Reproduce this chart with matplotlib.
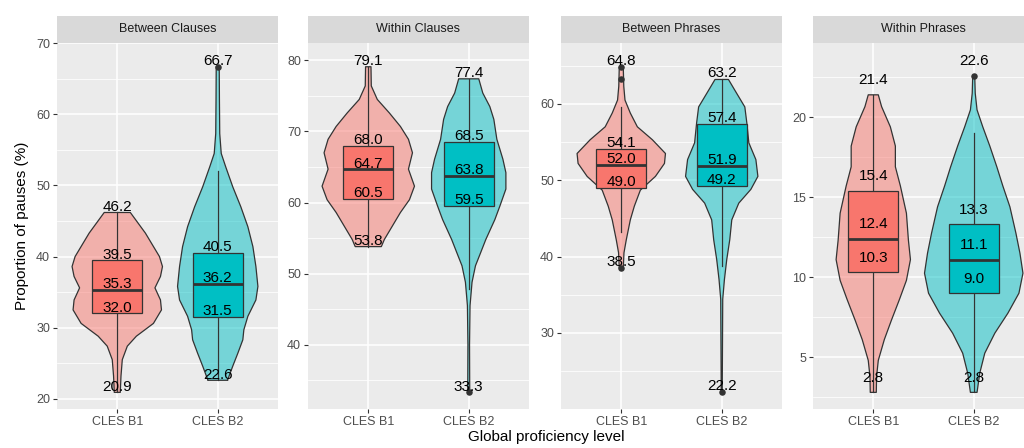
import matplotlib
matplotlib.use("Agg")
import matplotlib.pyplot as plt
from matplotlib.patches import Rectangle
from matplotlib.ticker import MultipleLocator

plt.rcParams["font.family"] = ["Liberation Sans", "DejaVu Sans"]

# ---------------------------------------------------------------------------
# Data
# ---------------------------------------------------------------------------
PANELS = ["Between Clauses", "Within Clauses", "Between Phrases", "Within Phrases"]
LEVELS = ["CLES B1", "CLES B2"]
FILLS = ["#F8766D", "#00BFC4"]

# five labelled values per group: min, q1, median, q3, max
bc_stats = [(20.9, 32.0, 35.3, 39.5, 46.2), (22.6, 31.5, 36.2, 40.5, 66.7)]
wc_stats = [(53.8, 60.5, 64.7, 68.0, 79.1), (33.3, 59.5, 63.8, 68.5, 77.4)]
bp_stats = [(38.5, 49.0, 52.0, 54.1, 64.8), (22.2, 49.2, 51.9, 57.4, 63.2)]
wp_stats = [(2.8, 10.3, 12.4, 15.4, 21.4), (2.8, 9.0, 11.1, 13.3, 22.6)]

# whisker ends and outliers per group
bc_whiskers = [(20.9, 46.2), (22.6, 52.0)]
wc_whiskers = [(53.8, 79.1), (47.8, 77.4)]
bp_whiskers = [(43.2, 59.6), (38.7, 63.2)]
wp_whiskers = [(2.8, 21.4), (2.8, 19.0)]

bc_outliers = [[], [66.7]]
wc_outliers = [[], [33.3]]
bp_outliers = [[38.5, 63.2, 64.8], [22.2]]
wp_outliers = [[], [22.6]]

# violin outlines: y levels and half widths (x units)
bc_b1_y = [46.2, 43.3, 40.0, 38.6, 37.2, 35.6, 33.9, 32.5, 30.6, 28.8, 27.4, 25.5, 23.2, 20.9]
bc_b1_w = [0.13, 0.28, 0.42, 0.45, 0.43, 0.375, 0.43, 0.44, 0.36, 0.19, 0.10, 0.05, 0.037, 0.03]
bc_b2_y = [66.7, 62.0, 57.3, 54.5, 52.6, 49.8, 47.0, 44.2, 41.4, 38.6, 35.8, 33.9, 31.6,
           29.7, 28.3, 26.4, 24.6, 22.7, 22.6]
bc_b2_w = [0.015, 0.017, 0.02, 0.035, 0.08, 0.15, 0.23, 0.30, 0.35, 0.38, 0.40, 0.38, 0.30,
           0.26, 0.25, 0.20, 0.15, 0.10, 0.10]

wc_b1_y = [79.1, 76.4, 74.5, 72.6, 70.7, 68.9, 67.0, 64.7, 62.3, 60.4, 58.6, 56.7, 54.8, 53.8]
wc_b1_w = [0.027, 0.03, 0.09, 0.21, 0.32, 0.40, 0.44, 0.40, 0.46, 0.41, 0.32, 0.24, 0.16, 0.13]
wc_b2_y = [77.4, 75.4, 73.5, 71.7, 68.9, 66.1, 64.2, 61.9, 59.5, 57.6, 54.8, 53.0, 51.1,
           48.8, 45.5, 40.0, 33.3]
wc_b2_w = [0.10, 0.14, 0.21, 0.25, 0.28, 0.34, 0.37, 0.37, 0.31, 0.26, 0.17, 0.12, 0.067,
           0.033, 0.013, 0.008, 0.01]

bp_b1_y = [64.8, 62.3, 60.5, 58.8, 57.0, 55.3, 53.5, 52.2, 50.5, 48.7, 46.6, 44.8, 42.2, 40.5, 38.5]
bp_b1_w = [0.02, 0.025, 0.037, 0.09, 0.16, 0.31, 0.44, 0.43, 0.34, 0.19, 0.13, 0.09, 0.05, 0.027, 0.02]
bp_b2_y = [63.2, 61.8, 59.6, 57.5, 54.9, 52.7, 50.5, 48.8, 47.0, 44.8, 42.2, 39.6, 37.0, 34.4, 22.2]
bp_b2_w = [0.067, 0.13, 0.23, 0.25, 0.27, 0.34, 0.36, 0.29, 0.17, 0.10, 0.08, 0.05, 0.027, 0.01, 0.005]

wp_b1_y = [21.4, 20.66, 19.4, 18.2, 16.9, 15.7, 14.0, 12.3, 11.1, 9.8, 8.6, 7.3, 6.1, 4.8, 3.8, 2.8]
wp_b1_w = [0.05, 0.083, 0.17, 0.22, 0.22, 0.27, 0.33, 0.35, 0.37, 0.33, 0.26, 0.18, 0.11, 0.05,
           0.033, 0.03]
wp_b2_y = [22.6, 21.5, 20.46, 19.4, 18.2, 16.9, 15.7, 14.4, 12.75, 11.5, 10.25, 9.0, 7.75, 6.5,
           5.25, 4.0, 2.8]
wp_b2_w = [0.01, 0.015, 0.033, 0.09, 0.16, 0.23, 0.29, 0.36, 0.42, 0.46, 0.49, 0.45, 0.34, 0.21,
           0.11, 0.06, 0.033]

STATS = [bc_stats, wc_stats, bp_stats, wp_stats]
WHISKERS = [bc_whiskers, wc_whiskers, bp_whiskers, wp_whiskers]
OUTLIERS = [bc_outliers, wc_outliers, bp_outliers, wp_outliers]
VIOLINS = [
    [(bc_b1_y, bc_b1_w), (bc_b2_y, bc_b2_w)],
    [(wc_b1_y, wc_b1_w), (wc_b2_y, wc_b2_w)],
    [(bp_b1_y, bp_b1_w), (bp_b2_y, bp_b2_w)],
    [(wp_b1_y, wp_b1_w), (wp_b2_y, wp_b2_w)],
]
TICK_STEP = [10, 10, 10, 5]
LABEL_NUDGE = 1.0

# ---------------------------------------------------------------------------
# Layout (pixels)
# ---------------------------------------------------------------------------
FIG_W, FIG_H = 1024, 448
PANEL_LEFT = [57, 308, 561, 813]
PANEL_W = 221
PANEL_TOP, PANEL_BOTTOM = 43, 409
STRIP_H = 27

BG = "#EBEBEB"
LINE = "#333333"

fig = plt.figure(figsize=(FIG_W / 100, FIG_H / 100), dpi=100)

for p, title in enumerate(PANELS):
    ax = fig.add_axes([
        PANEL_LEFT[p] / FIG_W,
        1 - PANEL_BOTTOM / FIG_H,
        PANEL_W / FIG_W,
        (PANEL_BOTTOM - PANEL_TOP) / FIG_H,
    ])
    ax.set_facecolor(BG)
    for s in ax.spines.values():
        s.set_visible(False)

    for i in range(2):
        x = i + 1
        vy, vw = VIOLINS[p][i]
        left = [x - w for w in vw]
        right = [x + w for w in vw]
        ax.fill_betweenx(vy, left, right, facecolor=FILLS[i], alpha=0.5, zorder=2)
        ax.fill_betweenx(vy, left, right, facecolor="none", edgecolor=LINE,
                         linewidth=0.9, zorder=2.1)

        mn, q1, med, q3, mx = STATS[p][i]
        lo, hi = WHISKERS[p][i]
        ax.plot([x, x], [lo, q1], color=LINE, lw=0.9, zorder=3)
        ax.plot([x, x], [q3, hi], color=LINE, lw=0.9, zorder=3)
        ax.add_patch(Rectangle((x - 0.25, q1), 0.5, q3 - q1, facecolor=FILLS[i],
                               edgecolor=LINE, linewidth=0.9, zorder=3.2))
        ax.plot([x - 0.25, x + 0.25], [med, med], color=LINE, lw=2.0,
                solid_capstyle="butt", zorder=3.3)
        if OUTLIERS[p][i]:
            ax.scatter([x] * len(OUTLIERS[p][i]), OUTLIERS[p][i], s=22,
                       color=LINE, zorder=3.4, linewidths=0)

        for v in STATS[p][i]:
            ax.text(x, v + LABEL_NUDGE, f"{v:.1f}", ha="center", va="center_baseline",
                    fontsize=11, color="black", zorder=5)

    # free y scale with ggplot-style 5% expansion
    lows = [STATS[p][i][0] for i in range(2)]
    highs = [STATS[p][i][4] + LABEL_NUDGE for i in range(2)]
    y0, y1 = min(lows), max(highs)
    pad = 0.05 * (y1 - y0)
    ax.set_ylim(y0 - pad, y1 + pad)
    ax.set_xlim(0.4, 2.6)

    step = TICK_STEP[p]
    ax.yaxis.set_major_locator(MultipleLocator(step))
    ax.yaxis.set_minor_locator(MultipleLocator(step / 2))
    ax.set_xticks([1, 2])
    ax.set_xticklabels(LEVELS)
    ax.grid(which="major", color="white", linewidth=1.1, zorder=0)
    ax.grid(which="minor", axis="y", color="white", linewidth=0.55, zorder=0)
    ax.set_axisbelow(True)
    ax.tick_params(which="major", length=3, width=0.8, color=LINE,
                   labelsize=9, labelcolor="#4D4D4D", pad=2)
    ax.tick_params(which="minor", length=0)

    # facet strip
    strip_h = STRIP_H / (PANEL_BOTTOM - PANEL_TOP)
    ax.add_patch(Rectangle((0, 1), 1, strip_h, transform=ax.transAxes,
                           facecolor="#D9D9D9", edgecolor="none", clip_on=False))
    ax.text(0.5, 1 + strip_h / 2, title, transform=ax.transAxes, ha="center",
            va="center", fontsize=9, color="#1A1A1A")

fig.text(22 / FIG_W, 1 - 226 / FIG_H, "Proportion of pauses (%)", rotation=90,
         ha="center", va="center", fontsize=11)
fig.text(546 / FIG_W, 1 - 437 / FIG_H, "Global proficiency level",
         ha="center", va="center", fontsize=11)

fig.savefig("out.png", dpi=100)
